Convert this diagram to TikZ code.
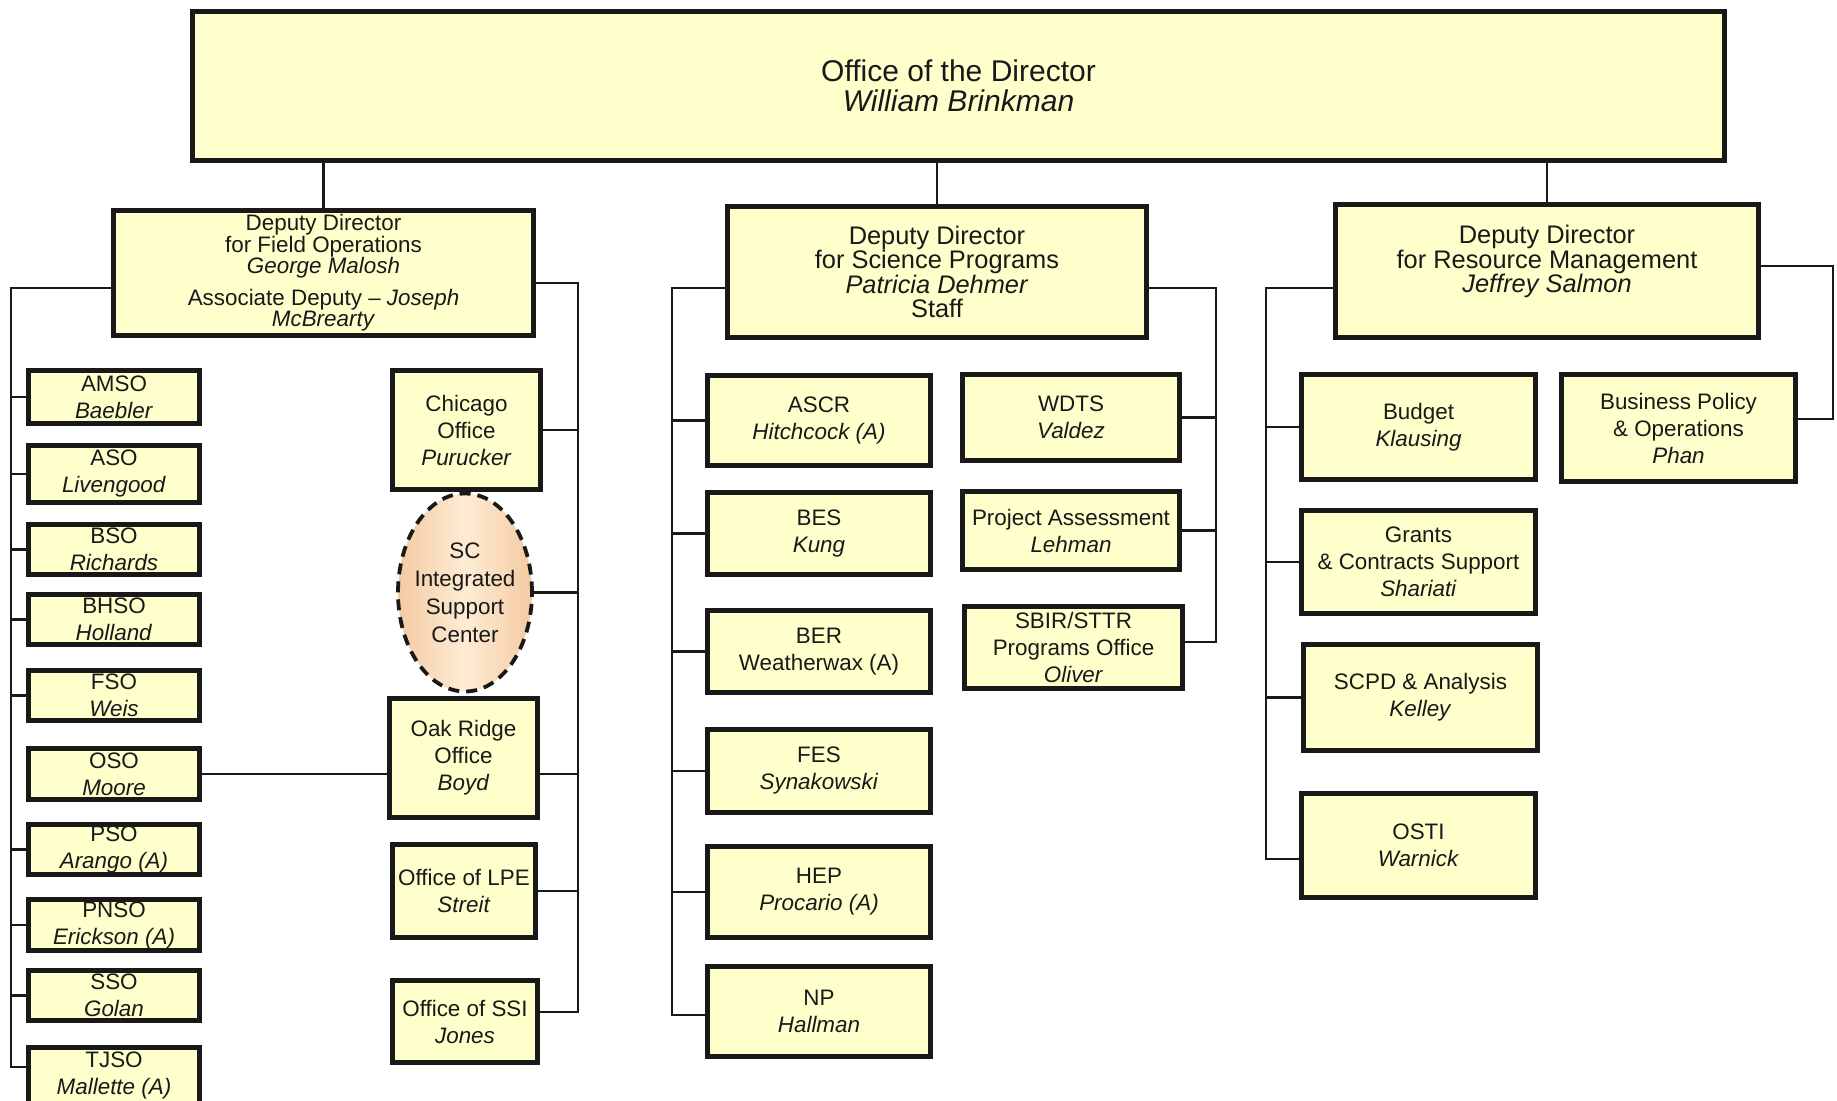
\documentclass[tikz,border=0pt]{standalone}
\usepackage{fontspec}
\setmainfont{Liberation Sans}
\usetikzlibrary{shapes.geometric}
\definecolor{boxfill}{RGB}{255,255,204}
\definecolor{inkc}{RGB}{25,25,25}
\definecolor{iscmid}{RGB}{253,236,212}
\definecolor{iscside}{RGB}{245,202,162}
\newcommand\bx[7][]{%
  \pgfmathsetmacro\bxx{(#3+#5)/2}%
  \pgfmathsetmacro\bxy{(#4+#6)/2}%
  \pgfmathsetmacro\bxw{(#5-#3)*0.5-2.4}%
  \pgfmathsetmacro\bxh{(#6-#4)*0.5-2.4}%
  \node[box,minimum width=\bxw pt,minimum height=\bxh pt,#1] (#2) at (\bxx,\bxy) {#7};}
\begin{document}
\begin{tikzpicture}[x=0.5pt,y=-0.5pt,
  box/.style={draw=inkc,line width=2.4pt,fill=boxfill,align=center,inner sep=0pt,
    text=inkc,font=\fontsize{11.2}{13.5}\selectfont},
  ddbox/.style={font=\fontsize{12.7}{12.2}\selectfont},
  wire/.style={draw=inkc,line width=1.1pt}]
\useasboundingbox (0,0) rectangle (1837,1101);
\clip (0,0) rectangle (1837,1101);
\fill[white] (0,0) rectangle (1837,1101);

% top
\bx[font=\fontsize{15}{15}\selectfont,line width=2.8pt]{top}{190}{9}{1727}{163}{Office of the Director\\\textit{William Brinkman}}
\bx[font=\fontsize{11.2}{10.6}\selectfont]{ddf}{111}{208}{536}{338}{Deputy Director\\for Field Operations\\\textit{George Malosh}\\[5.4pt]Associate Deputy -- \textit{Joseph}\\\textit{McBrearty}}
\bx[ddbox]{dds}{725}{204}{1149}{340}{Deputy Director\\for Science Programs\\\textit{Patricia Dehmer}\\Staff}
\bx[ddbox]{ddr}{1333}{202}{1761}{340}{Deputy Director\\for Resource Management\\\textit{Jeffrey Salmon}\\\mbox{}}

% field offices
\bx{amso}{26}{368}{202}{426}{AMSO\\\textit{Baebler}}
\bx{aso}{26}{443}{202}{505}{ASO\\\textit{Livengood}}
\bx{bso}{26}{522}{202}{577}{BSO\\\textit{Richards}}
\bx{bhso}{26}{592}{202}{647}{BHSO\\\textit{Holland}}
\bx{fso}{26}{668}{202}{723}{FSO\\\textit{Weis}}
\bx{oso}{26}{746}{202}{802}{OSO\\\textit{Moore}}
\bx{pso}{26}{822}{202}{877}{PSO\\\textit{Arango (A)}}
\bx{pnso}{26}{897}{202}{953}{PNSO\\\textit{Erickson (A)}}
\bx{sso}{26}{968}{202}{1023}{SSO\\\textit{Golan}}
\bx{tjso}{26}{1045}{202}{1106}{TJSO\\\textit{Mallette (A)}}

\bx{chicago}{390}{368}{543}{492}{Chicago\\Office\\\textit{Purucker}}
\node[ellipse,draw=inkc,dash pattern=on 5.5pt off 3.5pt,line width=1.9pt,
  left color=iscside,right color=iscside,middle color=iscmid,
  minimum width=67pt,minimum height=99pt,
  inner xsep=-3pt,inner ysep=0pt,align=center,text=inkc,
  font=\fontsize{11.2}{14}\selectfont] (isc) at (465,592.5) {SC\\Integrated\\Support\\Center};
\bx{oak}{387}{696}{540}{820}{Oak Ridge\\Office\\\textit{Boyd}}
\bx{lpe}{390}{842}{538}{940}{Office of LPE\\\textit{Streit}}
\bx{ssi}{390}{978}{540}{1065}{Office of SSI\\\textit{Jones}}

% science
\bx{ascr}{705}{373}{933}{468}{ASCR\\\textit{Hitchcock (A)}}
\bx{bes}{705}{490}{933}{577}{BES\\\textit{Kung}}
\bx{ber}{705}{608}{933}{695}{BER\\Weatherwax (A)}
\bx{fes}{705}{727}{933}{815}{FES\\\textit{Synakowski}}
\bx{hep}{705}{844}{933}{940}{HEP\\\textit{Procario (A)}}
\bx{np}{705}{964}{933}{1059}{NP\\\textit{Hallman}}
\bx{wdts}{960}{372}{1182}{463}{WDTS\\\textit{Valdez}}
\bx{pa}{960}{489}{1182}{572}{Project Assessment\\\textit{Lehman}}
\bx{sbir}{962}{604}{1185}{691}{SBIR/STTR\\Programs Office\\\textit{Oliver}}

% resource
\bx{budget}{1299}{372}{1538}{482}{Budget\\\textit{Klausing}}
\bx{bpo}{1559}{372}{1798}{484}{Business Policy\\\& Operations\\\textit{Phan}}
\bx{grants}{1299}{508}{1538}{616}{Grants\\\& Contracts Support\\\textit{Shariati}}
\bx{scpd}{1301}{642}{1540}{753}{SCPD \& Analysis\\\textit{Kelley}}
\bx{osti}{1299}{791}{1538}{900}{OSTI\\\textit{Warnick}}

% connectors
\foreach \n in {ddf,dds,ddr} \draw[wire] (top.south -| \n.north) -- (\n.north);

\coordinate (lbFt) at (11,288); \coordinate (lbFb) at (11,1067);
\draw[wire] (lbFt -| ddf.west) -- (lbFt) -- (lbFb) -- (lbFb -| tjso.west);
\foreach \n in {amso,aso,bso,bhso,fso,pso,pnso,sso} \draw[wire] (\n.west) -- (\n.west -| lbFt);

\coordinate (rbFt) at (578,283); \coordinate (rbFb) at (578,1012);
\draw[wire] (rbFt -| ddf.east) -- (rbFt) -- (rbFb) -- (rbFb -| ssi.east);
\foreach \n in {chicago,isc,lpe} \draw[wire] (\n.east) -- (\n.east -| rbFt);
\draw[wire] (oso.east) -- (oso.east -| oak.west);
\draw[wire] (oak.east |- oso.east) -- (oso.east -| rbFt);

\coordinate (lbSt) at (672,288); \coordinate (lbSb) at (672,1015);
\draw[wire] (lbSt -| dds.west) -- (lbSt) -- (lbSb) -- (lbSb -| np.west);
\foreach \n in {ascr,bes,ber,fes,hep} \draw[wire] (\n.west) -- (\n.west -| lbSt);

\coordinate (rbSt) at (1216,288); \coordinate (rbSb) at (1216,642);
\draw[wire] (rbSt -| dds.east) -- (rbSt) -- (rbSb) -- (rbSb -| sbir.east);
\foreach \n in {wdts,pa} \draw[wire] (\n.east) -- (\n.east -| rbSt);

\coordinate (lbRt) at (1266,288); \coordinate (lbRb) at (1266,859);
\draw[wire] (lbRt -| ddr.west) -- (lbRt) -- (lbRb) -- (lbRb -| osti.west);
\foreach \n in {budget,grants,scpd} \draw[wire] (\n.west) -- (\n.west -| lbRt);

\coordinate (rRt) at (1833,266); \coordinate (rRb) at (1833,419);
\draw[wire] (rRt -| ddr.east) -- (rRt) -- (rRb) -- (rRb -| bpo.east);
\end{tikzpicture}
\end{document}
